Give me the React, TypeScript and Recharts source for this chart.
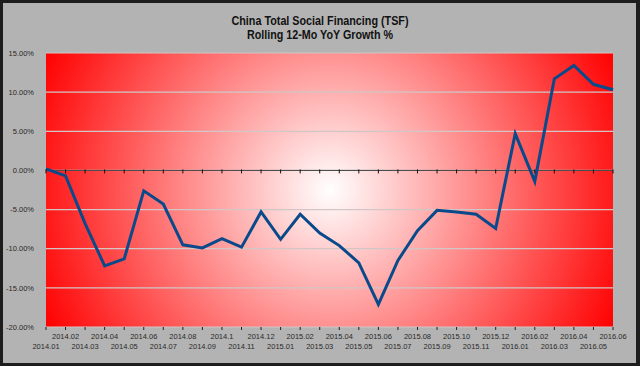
import React from "react";
import {
  LineChart,
  Line,
  XAxis,
  YAxis,
  CartesianGrid,
  ReferenceLine,
  ReferenceDot,
} from "recharts";

const months = [
  "2014.01", "2014.02", "2014.03", "2014.04", "2014.05", "2014.06",
  "2014.07", "2014.08", "2014.09", "2014.1", "2014.11", "2014.12",
  "2015.01", "2015.02", "2015.03", "2015.04", "2015.05", "2015.06",
  "2015.07", "2015.08", "2015.09", "2015.10", "2015.11", "2015.12",
  "2016.01", "2016.02", "2016.03", "2016.04", "2016.05", "2016.06",
];

// rolling 12-mo yoy growth, in %
const growth = [
  0.2, -0.7, -6.8, -12.2, -11.3, -2.6,
  -4.3, -9.5, -9.9, -8.7, -9.8, -5.3,
  -8.8, -5.6, -8.0, -9.6, -11.8, -17.1,
  -11.5, -7.7, -5.1, -5.3, -5.6, -7.4,
  4.7, -1.4, 11.7, 13.4, 11.0, 10.3,
];

const yTicks = [-20, -15, -10, -5, 0, 5, 10, 15];

const data = months.map((m, i) => ({ month: m, tsf: growth[i] }));

const labelFont = "'Liberation Sans', Arial, sans-serif";

const MonthTick = (props: any) => {
  const { x, y, payload, index } = props;
  const upper = index % 2 === 1;
  return (
    <text
      x={x}
      y={y}
      dy={upper ? 7 : 16.5}
      textAnchor="middle"
      fontSize={7.5}
      fontFamily={labelFont}
      fill="#2a2a2a"
    >
      {payload.value}
    </text>
  );
};

const ZeroTick = (props: any) => {
  const { cx, cy } = props;
  return <line x1={cx} x2={cx} y1={cy - 1} y2={cy + 3} stroke="#111" strokeWidth={1} />;
};

export default function App() {
  return (
    <div
      style={{
        position: "absolute",
        left: 0,
        top: 0,
        width: 640,
        height: 366,
        background: "#1d1d1d",
      }}
    >
      <div
        style={{
          position: "absolute",
          left: 3,
          top: 3,
          width: 633,
          height: 360,
          background: "#b3b3b3",
        }}
      />
      <svg
        width={640}
        height={50}
        style={{ position: "absolute", left: 0, top: 0 }}
      >
        <text
          x={320}
          y={25}
          textAnchor="middle"
          fontSize={12.5}
          fontWeight="bold"
          fontFamily={labelFont}
          fill="#111"
          textLength={177}
          lengthAdjust="spacingAndGlyphs"
        >
          China Total Social Financing (TSF)
        </text>
        <text
          x={320}
          y={39}
          textAnchor="middle"
          fontSize={12.5}
          fontWeight="bold"
          fontFamily={labelFont}
          fill="#111"
          textLength={146}
          lengthAdjust="spacingAndGlyphs"
        >
          Rolling 12-Mo YoY Growth %
        </text>
      </svg>
      <div style={{ position: "absolute", left: 0, top: 0 }}>
        <LineChart
          width={640}
          height={366}
          data={data}
          margin={{ top: 53, right: 27, left: 0, bottom: 0 }}
        >
          <defs>
            <radialGradient
              id="tsfBg"
              gradientUnits="userSpaceOnUse"
              cx={330}
              cy={190}
              r={315}
            >
              <stop offset="0%" stopColor="#ffffff" />
              <stop offset="100%" stopColor="#ff0000" />
            </radialGradient>
          </defs>
          <CartesianGrid
            vertical={false}
            stroke="#d2c6c6"
            strokeWidth={1.2}
            fill="url(#tsfBg)"
            fillOpacity={1}
          />
          <XAxis
            dataKey="month"
            interval={0}
            height={39}
            axisLine={false}
            tickLine={{ stroke: "#222" }}
            tickSize={3}
            tickMargin={2}
            tick={<MonthTick />}
          />
          <YAxis
            width={46}
            domain={[-20, 15]}
            ticks={yTicks}
            axisLine={false}
            tickLine={false}
            tickMargin={6}
            tickFormatter={(v: number) => `${v.toFixed(2)}%`}
            tick={{ fontSize: 7.5, fontFamily: labelFont, fill: "#2a2a2a" }}
          />
          <ReferenceLine y={0} stroke="#444" strokeWidth={1} />
          {months.map((m) => (
            <ReferenceDot key={m} x={m} y={0} shape={<ZeroTick />} />
          ))}
          <Line
            type="linear"
            dataKey="tsf"
            stroke="#0a4a8a"
            strokeWidth={3}
            dot={false}
            isAnimationActive={false}
          />
        </LineChart>
      </div>
    </div>
  );
}
